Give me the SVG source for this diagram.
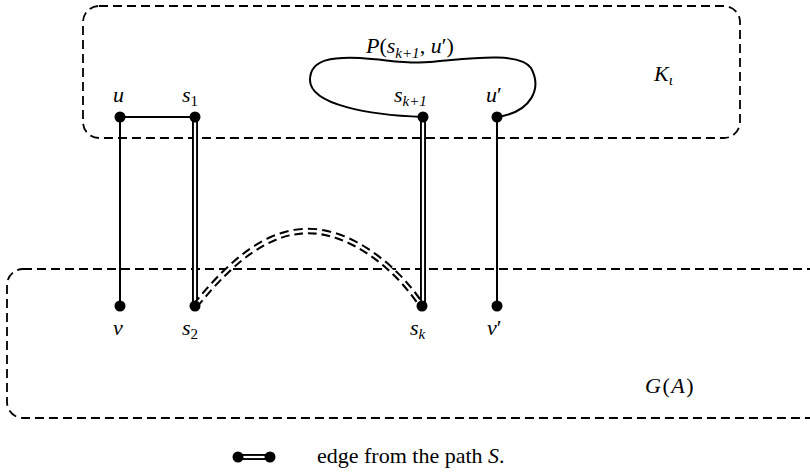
<svg xmlns="http://www.w3.org/2000/svg" width="810" height="475" viewBox="0 0 810 475">
<style>
.box{fill:none;stroke:#000;stroke-width:1.8;stroke-dasharray:9 5}
.e{fill:none;stroke:#000;stroke-width:2}
.dbo{fill:none;stroke:#000;stroke-width:6}
.dbi{fill:none;stroke:#fff;stroke-width:2.2}
.dd{fill:none;stroke:#000;stroke-width:6.5;stroke-dasharray:9 5}
.ddi{fill:none;stroke:#fff;stroke-width:2.4}
.n{fill:#000}
text{font-family:"Liberation Serif","DejaVu Serif",serif;font-size:22px;fill:#000}
.m{font-style:italic}
</style>
<g id="K">
<rect class="box" x="83" y="6" width="657" height="132" rx="16"/>
<text class="m" x="654" y="81" font-size="24">K<tspan font-size="15" dy="4">ι</tspan></text>
</g>
<g id="GA">
<rect class="box" x="7" y="269" width="820" height="149" rx="16"/>
<text class="m" x="645" y="393" font-size="24" letter-spacing="1.5">G<tspan font-style="normal">(</tspan>A<tspan font-style="normal">)</tspan></text>
</g>
<g id="connectors">
<path class="e" d="M423,117 C370,115 310,105 310,80 C310,58 335,57 360,58 C390,60 405,64 430,62 C460,60 518,50 531,68 C542,88 532,112 497,117"/>
<line class="e" x1="120" y1="117" x2="195" y2="117"/>
<line class="e" x1="120" y1="117" x2="120" y2="306"/>
<line class="e" x1="497" y1="117" x2="497" y2="306"/>
<line class="dbo" x1="195" y1="117" x2="195" y2="306"/>
<line class="dbi" x1="195" y1="117" x2="195" y2="306"/>
<line class="dbo" x1="423" y1="117" x2="423" y2="306"/>
<line class="dbi" x1="423" y1="117" x2="423" y2="306"/>
<path class="dd" d="M195,306 C232,260 268,231 308,231 C350,231 395,265 422,306"/>
<path class="ddi" d="M195,306 C232,260 268,231 308,231 C350,231 395,265 422,306"/>
</g>
<g id="P"><text class="m" x="366" y="53">P<tspan font-style="normal">(</tspan>s<tspan font-size="15" dy="5">k+1</tspan><tspan dy="-5" font-style="normal">, </tspan>u<tspan font-style="normal">′)</tspan></text></g>
<g id="u"><circle class="n" cx="120" cy="117" r="5.5"/><text class="m" x="113" y="102">u</text></g>
<g id="s1"><circle class="n" cx="195" cy="117" r="5.5"/><text class="m" x="182" y="102">s<tspan font-size="15" font-style="normal" dy="4">1</tspan></text></g>
<g id="sk1"><circle class="n" cx="423" cy="117" r="5.5"/><text class="m" x="394" y="102">s<tspan font-size="15" dy="4">k+1</tspan></text></g>
<g id="u2"><circle class="n" cx="497" cy="117" r="5.5"/><text class="m" x="486" y="102">u<tspan font-style="normal">′</tspan></text></g>
<g id="v"><circle class="n" cx="120" cy="306" r="5.5"/><text class="m" x="113" y="335">v</text></g>
<g id="s2"><circle class="n" cx="195" cy="306" r="5.5"/><text class="m" x="182" y="335">s<tspan font-size="15" font-style="normal" dy="4">2</tspan></text></g>
<g id="sk"><circle class="n" cx="422" cy="306" r="5.5"/><text class="m" x="410" y="335">s<tspan font-size="15" dy="4">k</tspan></text></g>
<g id="v2"><circle class="n" cx="497" cy="306" r="5.5"/><text class="m" x="487" y="335">v<tspan font-style="normal">′</tspan></text></g>
<g id="legend">
<line class="dbo" x1="238" y1="457" x2="270" y2="457"/>
<line class="dbi" x1="238" y1="457" x2="270" y2="457"/>
<circle class="n" cx="238" cy="457" r="5.5"/>
<circle class="n" cx="270" cy="457" r="5.5"/>
<text x="317" y="463">edge from the path <tspan class="m">S</tspan>.</text>
</g>
</svg>
